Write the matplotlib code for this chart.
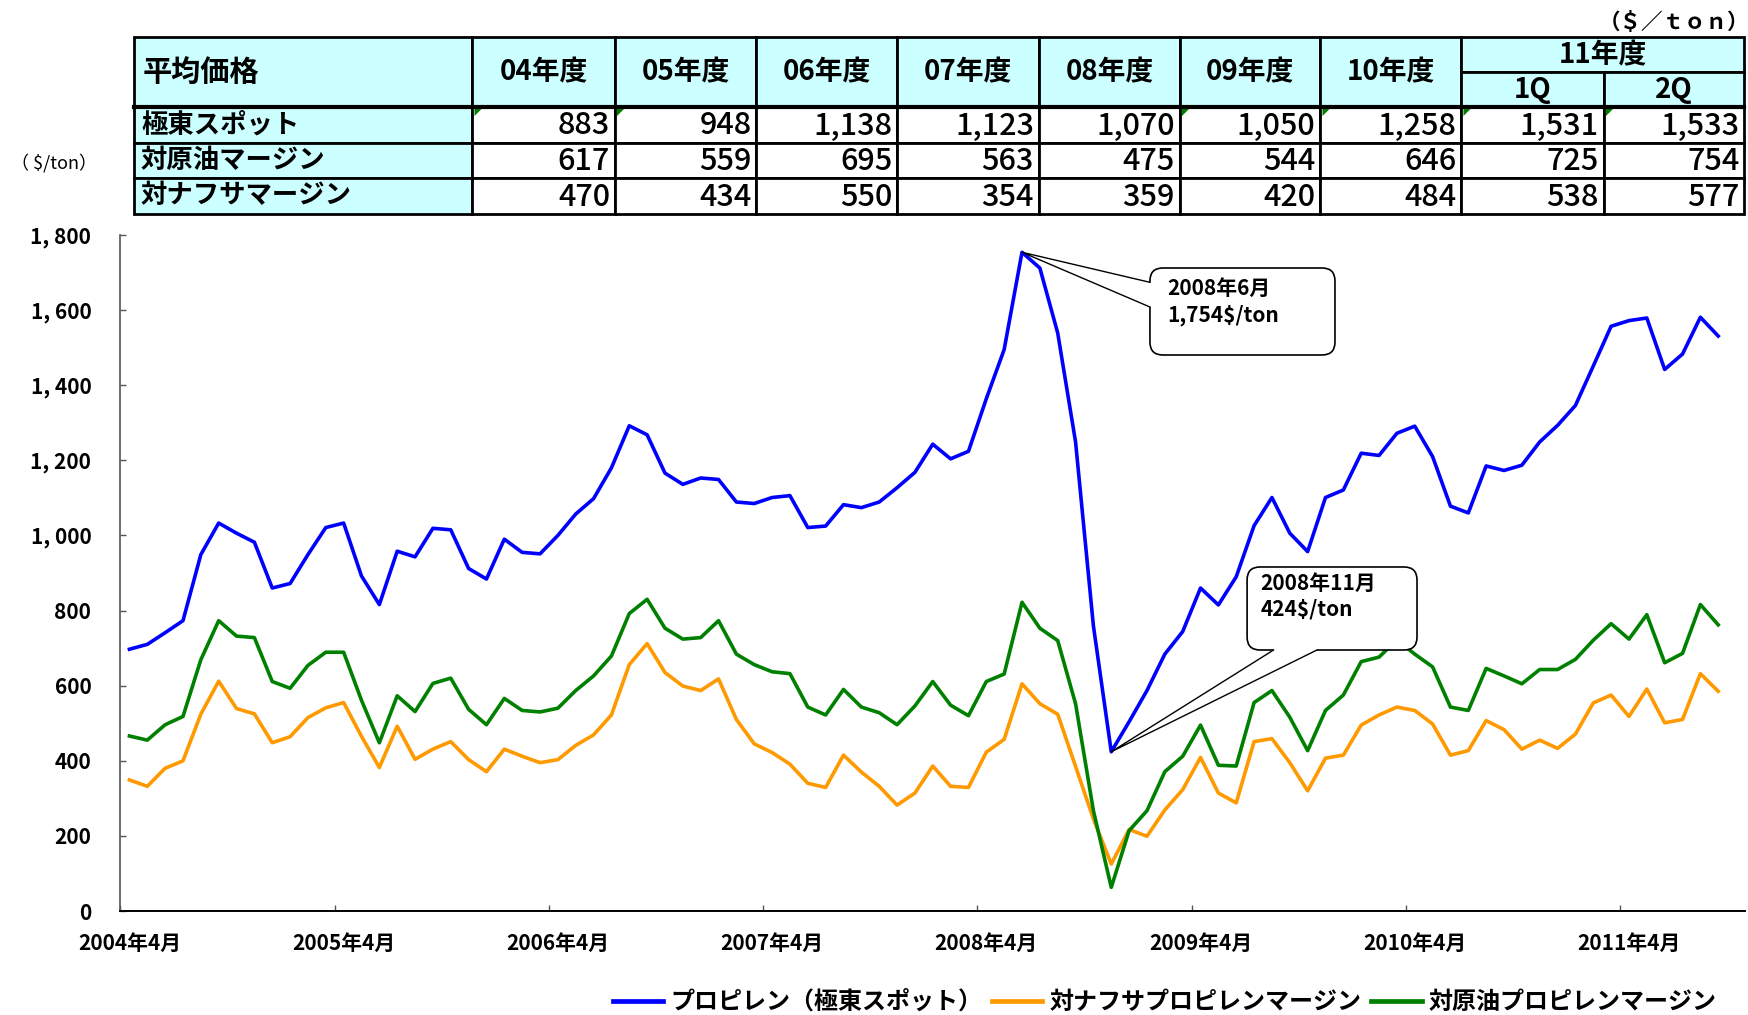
import numpy as np
import matplotlib.pyplot as plt
from matplotlib.patches import Rectangle, Polygon, FancyBboxPatch

from matplotlib.ticker import FixedLocator, NullFormatter

plt.rcParams['font.family'] = ['Noto Sans CJK JP', 'DejaVu Sans']

# monthly data, 2004-04 .. 2011-09 ($/ton)
spot = [697, 710, 741, 773, 949, 1033, 1006, 982, 860, 872, 949, 1021,
        1033, 892, 816, 958, 943, 1019, 1015, 912, 884, 990, 955, 951,
        1000, 1057, 1098, 1180, 1292, 1268, 1166, 1136, 1153, 1149, 1089, 1085,
        1101, 1106, 1021, 1025, 1082, 1074, 1089, 1127, 1168, 1243, 1204, 1224,
        1364, 1495, 1754, 1712, 1539, 1249, 759, 424, 504, 587, 684, 744,
        860, 815, 890, 1026, 1101, 1006, 957, 1101, 1121, 1219, 1213, 1272,
        1291, 1210, 1078, 1060, 1185, 1173, 1187, 1249, 1293, 1346, 1451, 1557,
        1572, 1579, 1442, 1483, 1581, 1531]
naphtha_margin = [349, 332, 380, 400, 524, 612, 539, 525, 448, 464, 515, 541,
                  555, 465, 382, 492, 404, 431, 451, 403, 371, 431, 412, 395,
                  403, 441, 469, 522, 656, 712, 635, 599, 587, 618, 510, 445,
                  422, 391, 340, 329, 415, 370, 332, 282, 314, 386, 332, 329,
                  423, 457, 605, 552, 524, 385, 245, 125, 217, 199, 269, 323,
                  409, 314, 288, 451, 459, 395, 320, 407, 415, 495, 522, 543,
                  534, 498, 415, 427, 507, 483, 431, 455, 433, 471, 554, 575,
                  518, 591, 501, 510, 632, 585]
crude_margin = [466, 455, 496, 518, 669, 773, 732, 728, 611, 593, 654, 689,
                689, 561, 448, 573, 531, 606, 620, 537, 496, 566, 534, 530,
                540, 587, 626, 679, 792, 830, 753, 724, 728, 773, 684, 656,
                637, 632, 543, 522, 590, 543, 528, 496, 546, 611, 548, 520,
                611, 631, 822, 753, 720, 552, 267, 63, 214, 267, 371, 412,
                495, 388, 386, 555, 587, 516, 427, 534, 575, 664, 676, 722,
                684, 650, 543, 534, 646, 626, 605, 643, 643, 670, 721, 765,
                724, 789, 661, 686, 816, 762]
year_labels = ["2004年4月", "2005年4月", "2006年4月", "2007年4月",
               "2008年4月", "2009年4月", "2010年4月", "2011年4月"]
series_names = ["プロピレン（極東スポット）", "対ナフサプロピレンマージン", "対原油プロピレンマージン"]

# summary table
table_cols = ["04年度", "05年度", "06年度", "07年度", "08年度", "09年度", "10年度", "1Q", "2Q"]
table_rows = ["極東スポット", "対原油マージン", "対ナフサマージン"]
table_spot = ["883", "948", "1,138", "1,123", "1,070", "1,050", "1,258", "1,531", "1,533"]
table_crude = ["617", "559", "695", "563", "475", "544", "646", "725", "754"]
table_naphtha = ["470", "434", "550", "354", "359", "420", "484", "538", "577"]
flagged = [0, 1, 5, 6, 7, 8]

W, H = 1749, 1015
fig = plt.figure(figsize=(W / 100, H / 100), dpi=100)


def fx(px):
    return px / W


def fy(py):
    return 1 - py / H


# ---- chart ----
ax = fig.add_axes([fx(120.5), fy(911), fx(1745) - fx(120.5), fy(235) - fy(911)])
x = np.arange(len(spot))
ax.plot(x, spot, color='#0000FF', lw=2.6, label=series_names[0], zorder=2)
ax.plot(x, naphtha_margin, color='#FF9900', lw=2.6, label=series_names[1], zorder=2)
ax.plot(x, crude_margin, color='#008000', lw=2.6, label=series_names[2], zorder=2)

ax.set_xlim(-0.5, len(spot) + 0.5)
ax.set_ylim(0, 1800)
for s in ['top', 'right']:
    ax.spines[s].set_visible(False)
ax.spines['left'].set_color('#555555')
ax.spines['bottom'].set_color('black')
ax.spines['left'].set_linewidth(1.2)
ax.spines['bottom'].set_linewidth(1.4)

ax.xaxis.set_major_locator(FixedLocator(np.arange(-0.5, len(spot), 12)))
ax.xaxis.set_major_formatter(NullFormatter())
ax.set_xticks(np.arange(0, len(spot), 12), year_labels, minor=True)
ax.tick_params(axis='x', which='major', direction='in', length=4.5, width=1, color='#555555')
ax.tick_params(axis='x', which='minor', length=0, pad=16, labelsize=15)
for t in ax.get_xticklabels(minor=True):
    t.set_fontweight('bold')

yt = np.arange(0, 1801, 200)
ax.set_yticks(yt, [f"{v:,}".replace(",", ", ") for v in yt])
ax.tick_params(axis='y', direction='in', length=4.5, width=1, color='#555555', pad=21, labelsize=15)
for t in ax.get_yticklabels():
    t.set_fontweight('bold')

# ---- callouts ----
aspect = (ax.get_position().width * W) / (ax.get_position().height * H)


def callout(x0, y0, x1, y1, text, tx, ty, pt, b1, b2, inward):
    box = FancyBboxPatch((x0, y0), x1 - x0, y1 - y0, transform=ax.transAxes,
                         boxstyle="round,pad=0,rounding_size=0.008", mutation_aspect=aspect,
                         fc='white', ec='black', lw=1.2, zorder=4)
    ax.add_patch(box)
    tip = ax.transAxes.inverted().transform(ax.transData.transform(pt))
    i1 = (b1[0] + inward[0], b1[1] + inward[1])
    i2 = (b2[0] + inward[0], b2[1] + inward[1])
    ax.add_patch(Polygon([i1, b1, tuple(tip), b2, i2], closed=True, transform=ax.transAxes,
                         fc='white', ec='none', zorder=5))
    ax.plot([b1[0], tip[0], b2[0]], [b1[1], tip[1], b2[1]], transform=ax.transAxes,
            color='black', lw=1.0, zorder=5)
    ax.text(tx, ty, text, transform=ax.transAxes, ha='left', va='center',
            fontsize=15, fontweight='bold', linespacing=1.3, zorder=6)


peak = int(np.argmax(spot))
low = int(np.argmin(spot))
callout(0.6337, 0.8225, 0.7476, 0.9512, "2008年6月\n1,754$/ton", 0.6442, 0.9009,
        (peak, spot[peak]), (0.6337, 0.930), (0.6337, 0.8935), (0.004, 0))
callout(0.6935, 0.3861, 0.7981, 0.5089, "2008年11月\n424$/ton", 0.7018, 0.466,
        (low, spot[low]), (0.7098, 0.3861), (0.7365, 0.3861), (0, 0.008))

# ---- legend ----
leg = fig.legend(loc='center', bbox_to_anchor=(0.666, fy(1002)), ncol=3, frameon=False,
                 prop={'size': 17.3, 'weight': 'bold'}, handlelength=2.1, handletextpad=0.3,
                 columnspacing=0.4)
for line in leg.get_lines():
    line.set_linewidth(3.4)

# ---- table ----
col_edges = [134, 472.5, 615, 756.5, 897.5, 1039, 1180, 1320.5, 1461.5, 1604, 1744.5]
row_edges = [37, 107, 143, 178, 214]
cyan = '#CCFFFF'


def cell(x0, x1, y0, y1, fc, lw=2.0):
    fig.add_artist(Rectangle((fx(x0), fy(y1)), fx(x1) - fx(x0), fy(y0) - fy(y1),
                             transform=fig.transFigure, fc=fc, ec='black', lw=lw))


# header row
cell(col_edges[0], col_edges[1], row_edges[0], row_edges[1], cyan)
fig.text(fx(col_edges[0] + 9), fy((row_edges[0] + row_edges[1]) / 2), "平均価格",
         ha='left', va='center', fontsize=21, fontweight='bold')
for j, name in enumerate(table_cols[:7]):
    cell(col_edges[j + 1], col_edges[j + 2], row_edges[0], row_edges[1], cyan)
    fig.text(fx((col_edges[j + 1] + col_edges[j + 2]) / 2), fy((row_edges[0] + row_edges[1]) / 2),
             name, ha='center', va='center', fontsize=20, fontweight='bold')
split = 72
cell(col_edges[8], col_edges[10], row_edges[0], split, cyan)
fig.text(fx((col_edges[8] + col_edges[10]) / 2), fy((row_edges[0] + split) / 2 + 1), "11年度",
         ha='center', va='center', fontsize=20, fontweight='bold')
for j, name in enumerate(table_cols[7:]):
    cell(col_edges[8 + j], col_edges[9 + j], split, row_edges[1], cyan)
    fig.text(fx((col_edges[8 + j] + col_edges[9 + j]) / 2), fy((split + row_edges[1]) / 2 + 1), name,
             ha='center', va='center', fontsize=20, fontweight='bold')

# data rows
for i, (label, vals) in enumerate(zip(table_rows, [table_spot, table_crude, table_naphtha])):
    y0, y1 = row_edges[i + 1], row_edges[i + 2]
    cell(col_edges[0], col_edges[1], y0, y1, cyan)
    fig.text(fx(col_edges[0] + 7), fy((y0 + y1) / 2), label, ha='left', va='center',
             fontsize=19, fontweight='bold')
    for j, v in enumerate(vals):
        cell(col_edges[j + 1], col_edges[j + 2], y0, y1, 'white')
        fig.text(fx(col_edges[j + 2] - 5), fy((y0 + y1) / 2 + 1), v, ha='right', va='center',
                 fontsize=22, fontweight='medium')
        if i == 0 and j in flagged:
            cx = col_edges[j + 1] + 2
            fig.add_artist(Polygon([(fx(cx), fy(y0 + 2)), (fx(cx + 7), fy(y0 + 2)), (fx(cx), fy(y0 + 9))],
                                   closed=True, transform=fig.transFigure, fc='#008000', ec='none'))
# thicker line under the header
fig.add_artist(plt.Line2D([fx(col_edges[0]), fx(col_edges[-1])], [fy(row_edges[1]), fy(row_edges[1])],
                          transform=fig.transFigure, color='black', lw=3))

# units
fig.text(fx(1749), fy(22), "（＄／ｔｏｎ）", ha='right', va='center', fontsize=15.5, fontweight='bold')
fig.text(fx(54), fy(163), "（ $/ton）", ha='center', va='center', fontsize=13)

fig.savefig("out.png", dpi=100, facecolor='white')
